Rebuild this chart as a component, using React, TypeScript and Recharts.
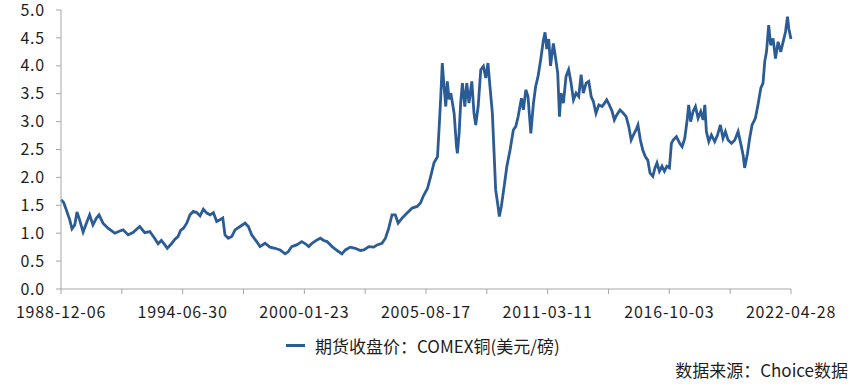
import { LineChart, Line, XAxis, YAxis } from "recharts";

// COMEX copper futures close, USD/lb
const priceYears = [
  1988.93, 1989.05, 1989.17, 1989.33, 1989.43, 1989.56, 1989.66, 1989.78, 1989.94,
  1990.09, 1990.24, 1990.39, 1990.55, 1990.67, 1990.85, 1991.08, 1991.39, 1991.62,
  1991.77, 1992.0, 1992.22, 1992.53, 1992.76, 1992.99, 1993.21, 1993.37, 1993.52,
  1993.68, 1993.79, 1993.98, 1994.13, 1994.28, 1994.4, 1994.53, 1994.68, 1994.83,
  1994.98, 1995.14, 1995.29, 1995.44, 1995.6, 1995.75, 1995.9, 1996.05, 1996.2,
  1996.33, 1996.43, 1996.58, 1996.74, 1996.89, 1997.12, 1997.35, 1997.5, 1997.65,
  1997.88, 1998.03, 1998.26, 1998.49, 1998.72, 1998.95, 1999.18, 1999.33, 1999.48,
  1999.71, 1999.94, 2000.11, 2000.26, 2000.41, 2000.64, 2000.79, 2000.95, 2001.1,
  2001.33, 2001.56, 2001.78, 2001.94, 2002.16, 2002.39, 2002.62, 2002.78, 2003.01,
  2003.23, 2003.39, 2003.61, 2003.77, 2003.92, 2004.07, 2004.22, 2004.35, 2004.53,
  2004.76, 2004.99, 2005.22, 2005.37, 2005.52, 2005.69, 2005.84, 2005.99, 2006.15,
  2006.22, 2006.3, 2006.37, 2006.45, 2006.53, 2006.6, 2006.68, 2006.76, 2006.91,
  2007.02, 2007.06, 2007.14, 2007.21, 2007.29, 2007.4, 2007.49, 2007.59, 2007.72,
  2007.82, 2007.9, 2008.01, 2008.13, 2008.25, 2008.36, 2008.46, 2008.55, 2008.66,
  2008.74, 2008.81, 2008.92, 2008.98, 2009.07, 2009.2, 2009.32, 2009.47, 2009.62,
  2009.73, 2009.84, 2009.99, 2010.08, 2010.19, 2010.29, 2010.42, 2010.54, 2010.64,
  2010.75, 2010.87, 2010.99, 2011.07, 2011.15, 2011.24, 2011.32, 2011.45, 2011.54,
  2011.65, 2011.73, 2011.8, 2011.91, 2012.03, 2012.15, 2012.26, 2012.37, 2012.49,
  2012.61, 2012.72, 2012.82, 2012.95, 2013.07, 2013.18, 2013.28, 2013.4, 2013.53,
  2013.68, 2013.79, 2013.89, 2014.01, 2014.14, 2014.24, 2014.35, 2014.5, 2014.65,
  2014.78, 2014.9, 2015.01, 2015.11, 2015.23, 2015.32, 2015.43, 2015.54, 2015.66,
  2015.77, 2015.87, 2016.0, 2016.1, 2016.19, 2016.3, 2016.42, 2016.53, 2016.64,
  2016.76, 2016.85, 2016.93, 2017.08, 2017.23, 2017.34, 2017.46, 2017.58, 2017.64,
  2017.73, 2017.84, 2017.95, 2018.07, 2018.19, 2018.3, 2018.38, 2018.45, 2018.56,
  2018.68, 2018.83, 2018.96, 2019.09, 2019.21, 2019.32, 2019.44, 2019.6, 2019.75,
  2019.9, 2020.02, 2020.13, 2020.2, 2020.33, 2020.43, 2020.54, 2020.69, 2020.81,
  2020.94, 2021.04, 2021.12, 2021.2, 2021.3, 2021.39, 2021.5, 2021.61, 2021.73,
  2021.85, 2021.96, 2022.07, 2022.16, 2022.22, 2022.32,
];

const priceValues = [
  1.6, 1.55, 1.42, 1.24, 1.08, 1.15, 1.38, 1.24, 1.02,
  1.18, 1.33, 1.15, 1.27, 1.33, 1.18, 1.09, 1.0, 1.04,
  1.06, 0.97, 1.01, 1.12, 1.01, 1.03, 0.91, 0.81, 0.87,
  0.79, 0.73, 0.81, 0.89, 0.94, 1.05, 1.09, 1.18, 1.33,
  1.39, 1.37, 1.31, 1.43, 1.36, 1.33, 1.37, 1.21, 1.24,
  1.27, 0.97, 0.91, 0.94, 1.06, 1.12, 1.18, 1.12, 0.97,
  0.85, 0.76, 0.82, 0.75, 0.73, 0.7, 0.63, 0.67, 0.76,
  0.79, 0.85, 0.81, 0.76, 0.82, 0.88, 0.91, 0.87, 0.85,
  0.76, 0.69, 0.63, 0.7, 0.75, 0.73, 0.69, 0.7, 0.76,
  0.75, 0.79, 0.82, 0.91, 1.09, 1.33, 1.33, 1.18, 1.27,
  1.36, 1.45, 1.48, 1.54, 1.68, 1.8, 2.02, 2.26, 2.37,
  2.85, 3.45, 4.05, 3.63, 3.27, 3.72, 3.4, 3.51, 3.15,
  2.55, 2.43, 2.79, 3.33, 3.69, 3.27, 3.69, 3.33, 3.72,
  3.15, 2.94, 3.27, 3.93, 3.99, 3.78, 4.05, 3.63, 3.15,
  2.43, 1.78, 1.48, 1.3, 1.48, 1.84, 2.19, 2.49, 2.85,
  2.91, 3.09, 3.42, 3.21, 3.57, 3.45, 2.79, 3.33, 3.63,
  3.81, 4.11, 4.45, 4.6, 4.3, 4.48, 4.0, 4.4, 4.17,
  3.87, 3.09, 3.51, 3.33, 3.81, 3.93, 3.69, 3.39, 3.51,
  3.45, 3.84, 3.51, 3.69, 3.72, 3.45, 3.36, 3.15, 3.3,
  3.27, 3.33, 3.39, 3.3, 3.18, 3.03, 3.12, 3.21, 3.15,
  3.09, 2.91, 2.67, 2.76, 2.85, 2.94, 2.67, 2.49, 2.37,
  2.31, 2.08, 2.02, 2.17, 2.26, 2.11, 2.2, 2.11, 2.2,
  2.17, 2.61, 2.67, 2.73, 2.61, 2.55, 2.7, 3.06, 3.3,
  3.0, 3.18, 3.27, 3.06, 3.18, 3.03, 3.3, 2.82, 2.64,
  2.76, 2.64, 2.76, 2.94, 2.7, 2.82, 2.67, 2.61, 2.67,
  2.82, 2.61, 2.4, 2.17, 2.43, 2.7, 2.94, 3.06, 3.3,
  3.6, 3.69, 4.08, 4.25, 4.73, 4.37, 4.49, 4.13, 4.43,
  4.25, 4.43, 4.61, 4.88, 4.67, 4.48,
];

const tickLabels = [
  "1988-12-06",
  "1994-06-30",
  "2000-01-23",
  "2005-08-17",
  "2011-03-11",
  "2016-10-03",
  "2022-04-28",
];

const yTicks = [0, 0.5, 1, 1.5, 2, 2.5, 3, 3.5, 4, 4.5, 5];

const seriesName = "期货收盘价：COMEX铜(美元/磅)";
const sourceNote = "数据来源：Choice数据";

const toYear = (s: string) => {
  const [y, m, d] = s.split("-").map(Number);
  const start = Date.UTC(y, 0, 1);
  const end = Date.UTC(y + 1, 0, 1);
  return y + (Date.UTC(y, m - 1, d) - start) / (end - start);
};

const labelYears = tickLabels.map(toYear);
// minor ticks sit halfway between the labelled ones
const xTicks: number[] = [];
labelYears.forEach((t, i) => {
  xTicks.push(t);
  if (i < labelYears.length - 1) xTicks.push((t + labelYears[i + 1]) / 2);
});

const data = priceYears.map((t, i) => ({ t, v: priceValues[i] }));

const font = "'Noto Sans CJK SC', 'Noto Sans', sans-serif";
const axisColor = "#a6a6a6";
const lineColor = "#2b5c96";
const textColor = "#1e1e1e";

const formatX = (v: number) => {
  const i = labelYears.findIndex((t) => Math.abs(t - v) < 1e-6);
  return i >= 0 ? tickLabels[i] : "";
};

const tickStyle = { fill: textColor, fontSize: 16, fontFamily: font, letterSpacing: 0.8 };

export default function App() {
  return (
    <div
      style={{
        position: "absolute",
        left: 0,
        top: 0,
        width: 851,
        height: 392,
        background: "#fff",
        fontFamily: font,
      }}
    >
      <LineChart
        width={851}
        height={330}
        data={data}
        margin={{ top: 10, right: 60, left: 0, bottom: 0 }}
      >
        <XAxis
          dataKey="t"
          type="number"
          domain={[labelYears[0], labelYears[labelYears.length - 1]]}
          ticks={xTicks}
          tickFormatter={formatX}
          interval={0}
          height={41}
          stroke={axisColor}
          tickSize={5}
          tickMargin={13}
          tick={tickStyle}
        />
        <YAxis
          domain={[0, 5]}
          ticks={yTicks}
          tickFormatter={(v: number) => v.toFixed(1)}
          width={61}
          stroke={axisColor}
          tickSize={5}
          tickMargin={11}
          tick={tickStyle}
        />
        <Line
          type="linear"
          dataKey="v"
          name={seriesName}
          stroke={lineColor}
          strokeWidth={2.8}
          dot={false}
          isAnimationActive={false}
        />
      </LineChart>

      <div
        style={{
          position: "absolute",
          top: 333,
          left: 286,
          height: 24,
          display: "flex",
          alignItems: "center",
          color: textColor,
          fontSize: 17,
        }}
      >
        <span
          style={{
            display: "inline-block",
            width: 19,
            height: 3,
            background: lineColor,
            marginRight: 10,
          }}
        />
        <span>{seriesName}</span>
      </div>

      <div
        style={{
          position: "absolute",
          top: 358,
          right: 3,
          height: 24,
          lineHeight: "24px",
          color: textColor,
          fontSize: 17,
        }}
      >
        {sourceNote}
      </div>
    </div>
  );
}
